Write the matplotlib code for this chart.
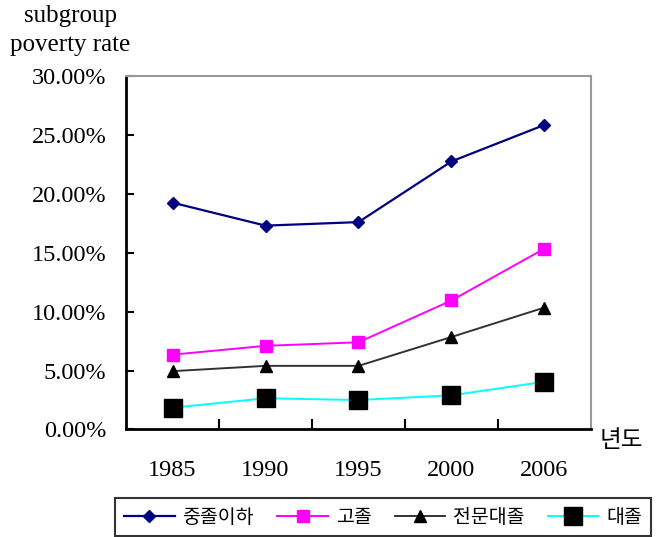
import matplotlib
matplotlib.use("Agg")
import matplotlib.pyplot as plt
from matplotlib.ticker import FixedLocator, NullFormatter, FuncFormatter

plt.rcParams['font.family'] = ['Liberation Serif', 'Noto Sans CJK KR', 'DejaVu Sans']

years = ['1985', '1990', '1995', '2000', '2006']
middle_or_less = [19.25, 17.3, 17.6, 22.75, 25.85]
high_school = [6.35, 7.1, 7.4, 10.95, 15.35]
junior_college = [4.95, 5.4, 5.4, 7.85, 10.35]
university = [1.85, 2.65, 2.5, 2.9, 4.05]
series_names = ['중졸이하', '고졸', '전문대졸', '대졸']
yticks = [0, 5, 10, 15, 20, 25, 30]

fig = plt.figure(figsize=(6.57, 5.37), dpi=100)
ax = fig.add_axes([0.1918, 0.2002, 0.7077, 0.6583])

x = list(range(len(years)))
ax.plot(x, middle_or_less, color='#000080', lw=1.6, marker='D', ms=6.5,
        label=series_names[0])
ax.plot(x, high_school, color='#ff00ff', lw=1.4, marker='s', ms=8.5,
        label=series_names[1])
ax.plot(x, junior_college, color='#333333', lw=1.4, marker='^', ms=9,
        markerfacecolor='black', markeredgecolor='black', label=series_names[2])
ax.plot(x, university, color='#00ffff', lw=1.4, marker='s', ms=13,
        markerfacecolor='black', markeredgecolor='black', label=series_names[3])

ax.set_xlim(-0.5, 4.5)
ax.set_ylim(0, 30)
ax.set_yticks(yticks)
ax.yaxis.set_major_formatter(FuncFormatter(lambda v, p: '%.2f%%' % v))
ax.tick_params(axis='y', direction='in', length=6, width=1.5, labelsize=17.5, pad=14)

# category labels centred, ticks on the boundaries
ax.set_xticks(x)
ax.set_xticklabels(years)
ax.tick_params(axis='x', which='major', length=0, labelsize=17.5, pad=22)
ax.xaxis.set_minor_locator(FixedLocator([0.5, 1.5, 2.5, 3.5]))
ax.xaxis.set_minor_formatter(NullFormatter())
ax.tick_params(axis='x', which='minor', direction='in', length=7, width=1.5)

ax.spines['left'].set_linewidth(2)
ax.spines['bottom'].set_linewidth(2)
ax.spines['top'].set_color('#999999')
ax.spines['right'].set_color('#999999')
ax.spines['top'].set_linewidth(1.5)
ax.spines['right'].set_linewidth(1.5)

fig.text(0.107, 0.99, 'subgroup\npoverty rate', ha='center', va='top',
         fontsize=18, linespacing=1.4)
fig.text(0.912, 0.18, '년도', fontsize=17, family=['Noto Sans CJK KR'],
         ha='left', va='center')

leg = fig.legend(loc='center', bbox_to_anchor=(0.583, 0.037), ncol=4,
                 prop={'family': 'Noto Sans CJK KR', 'size': 14},
                 frameon=True, fancybox=False, handlelength=2.6,
                 columnspacing=1.2, handletextpad=0.4, borderpad=0.45,
                 borderaxespad=0)
leg.get_frame().set_edgecolor('black')
leg.get_frame().set_linewidth(1.5)

fig.savefig('out.png', dpi=100)
